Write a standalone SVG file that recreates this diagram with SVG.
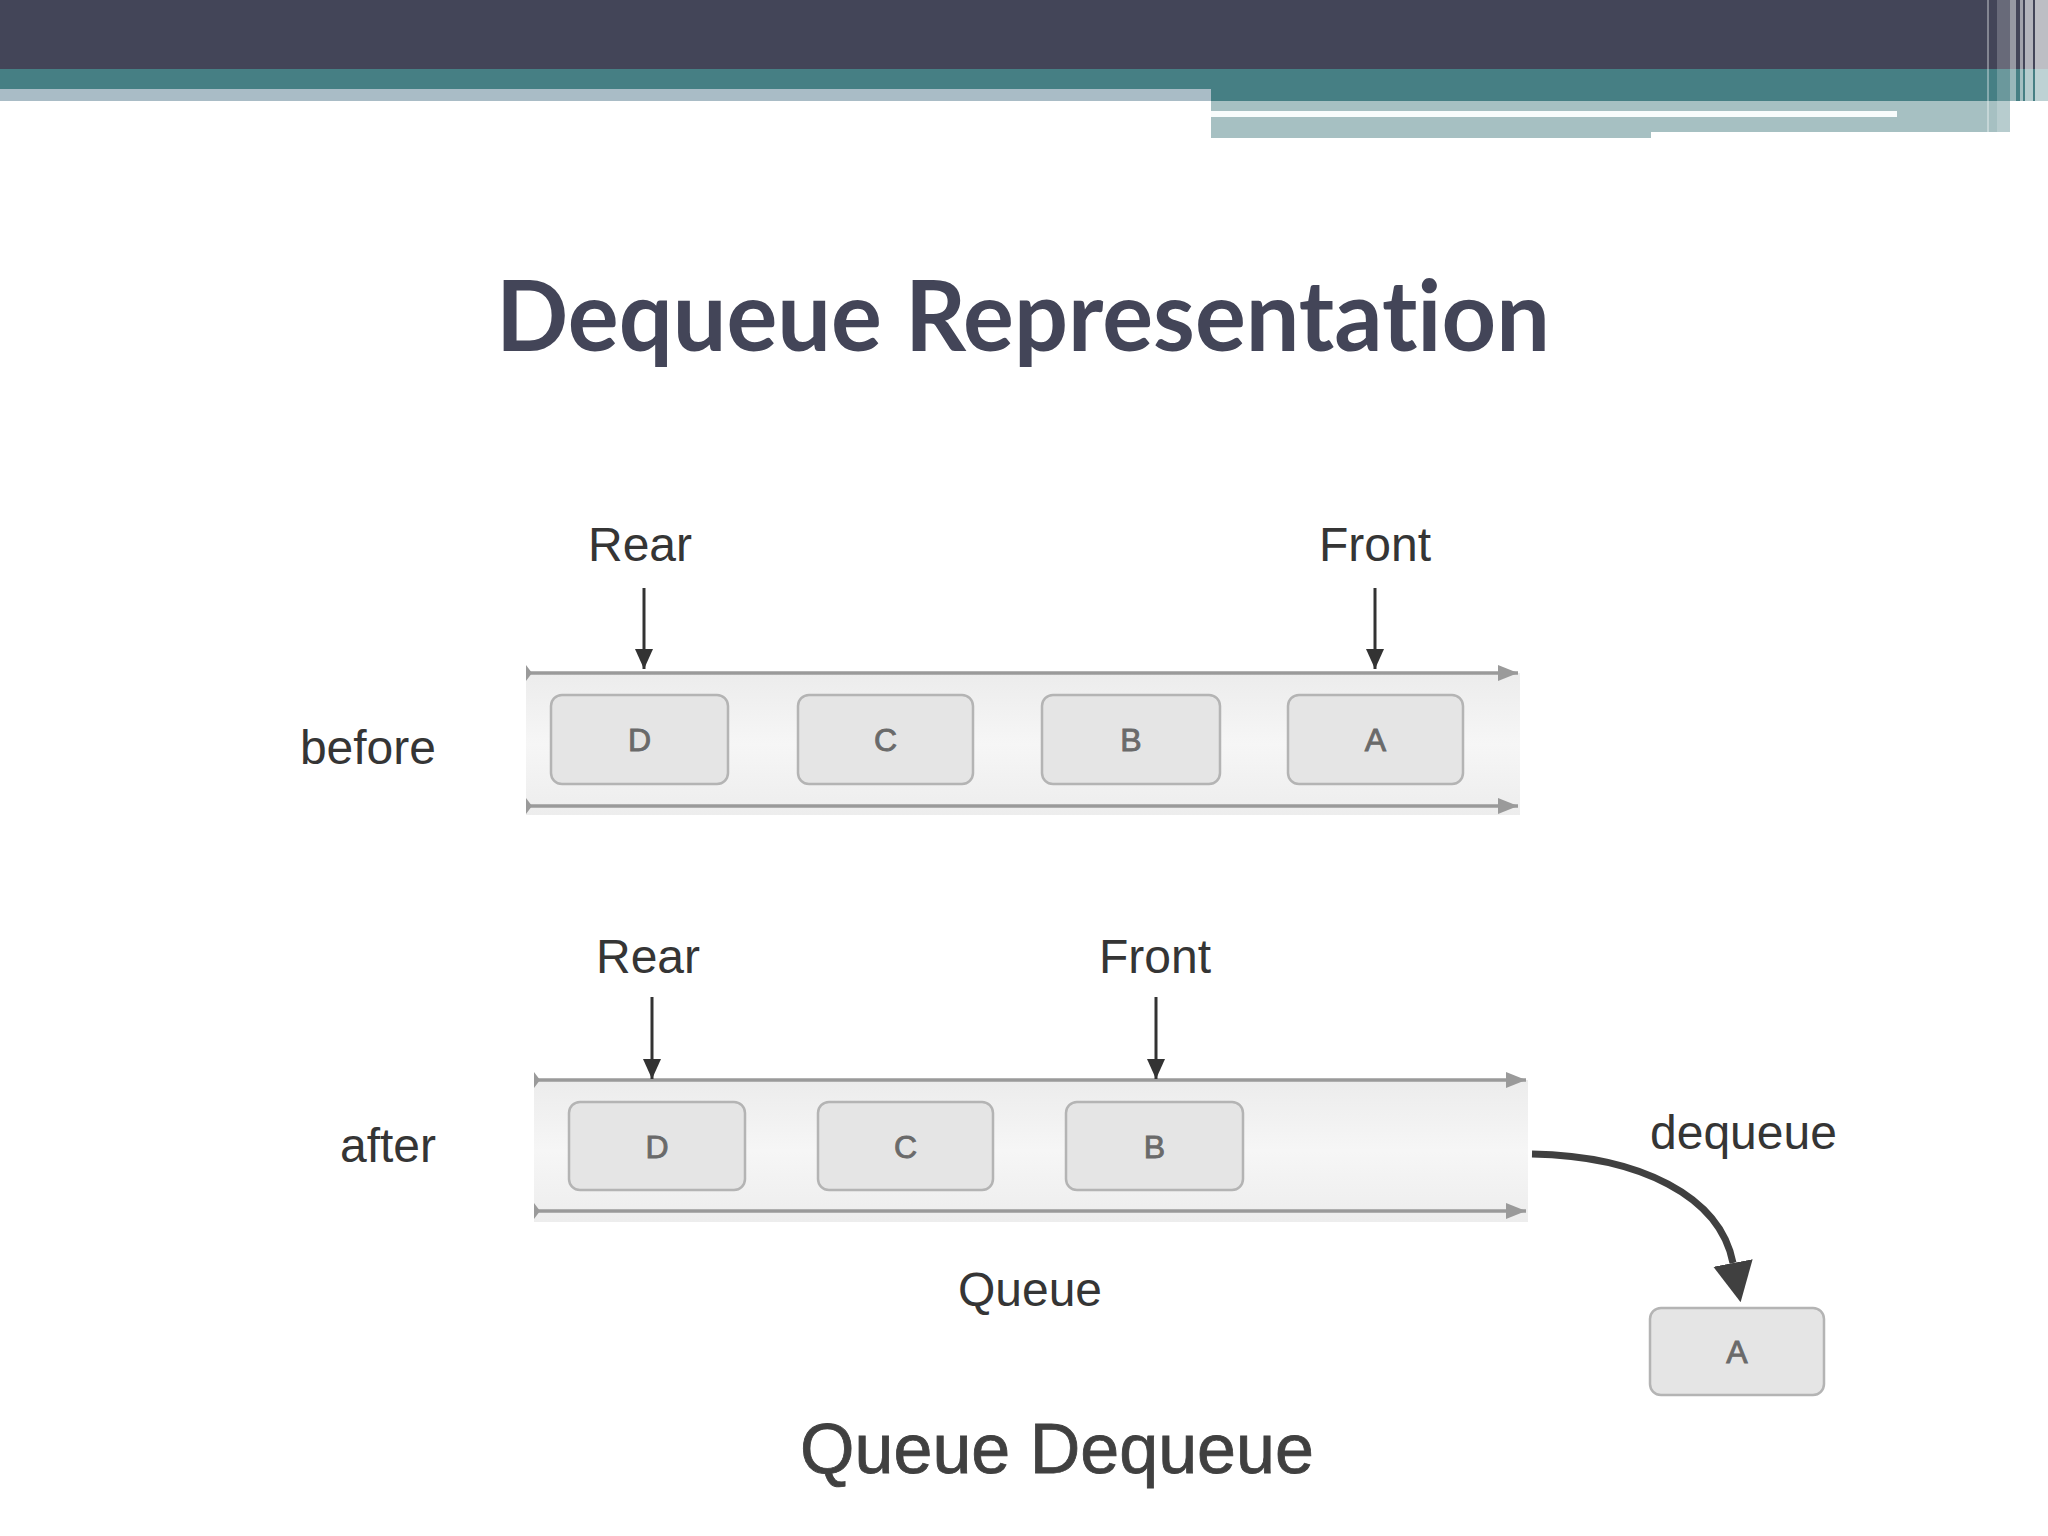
<svg xmlns="http://www.w3.org/2000/svg" width="2048" height="1536" viewBox="0 0 2048 1536">
  <style>
    .lbl { font-family: "Liberation Sans", Arial, sans-serif; font-size: 48px; fill: #353535; }
    .cell { fill: #e5e5e5; stroke: #b4b4b4; stroke-width: 2.5; }
    .cellt { font-family: "Liberation Sans", Arial, sans-serif; font-size: 32px; fill: #6a6a6a; stroke: #6a6a6a; stroke-width: 0.9; text-anchor: middle; }
    .qline { stroke: #9a9a9a; stroke-width: 3.5; fill: none; }
    .ptr { stroke: #333; stroke-width: 3; fill: none; }
  </style>
  <defs>
    <linearGradient id="band" x1="0" y1="0" x2="0" y2="1">
      <stop offset="0" stop-color="#ececec"/>
      <stop offset="0.5" stop-color="#f6f6f6"/>
      <stop offset="1" stop-color="#ededed"/>
    </linearGradient>
    <marker id="gArrow" markerUnits="userSpaceOnUse" viewBox="0 0 20 16" refX="20" refY="8" markerWidth="20" markerHeight="16" orient="auto">
      <path d="M0,0 L20,8 L0,16 z" fill="#9a9a9a"/>
    </marker>
    <marker id="gTail" markerUnits="userSpaceOnUse" viewBox="0 0 6 16" refX="0" refY="8" markerWidth="6" markerHeight="16" orient="auto">
      <path d="M0,0 L6,8 L0,16 z" fill="#9a9a9a"/>
    </marker>
    <marker id="dArrow" markerUnits="userSpaceOnUse" viewBox="0 0 18 20" refX="9" refY="20" markerWidth="18" markerHeight="20" orient="0">
      <path d="M0,0 L18,0 L9,20 z" fill="#333"/>
    </marker>
    <marker id="bigArrow" markerUnits="userSpaceOnUse" viewBox="0 0 40 40" refX="0" refY="20" markerWidth="40" markerHeight="40" orient="auto">
      <path d="M0,0 L40,20 L0,40 z" fill="#404040"/>
    </marker>
  </defs>

  <rect x="0" y="0" width="2048" height="1536" fill="#ffffff"/>

  <g id="header">
    <rect x="0" y="0" width="2048" height="69" fill="#434558"/>
    <rect x="0" y="69" width="2048" height="32" fill="#467f84"/>
    <rect x="0" y="89" width="1211" height="12" fill="#a9bcc6"/>
    <rect x="1211" y="101" width="440" height="37" fill="#a6c0c2"/>
    <rect x="1651" y="101" width="359" height="31" fill="#a6c0c2"/>
    <rect x="1211" y="111" width="686" height="6" fill="#f8fcfc"/>
    <rect x="1987" y="0" width="2" height="132" fill="#ffffff" fill-opacity="0.35"/>
    <rect x="1997" y="0" width="13" height="132" fill="#ffffff" fill-opacity="0.2"/>
    <rect x="2010" y="0" width="6" height="138" fill="#ffffff" fill-opacity="0.45"/>
    <rect x="2020" y="0" width="3" height="138" fill="#ffffff" fill-opacity="0.5"/>
    <rect x="2025" y="0" width="8" height="138" fill="#ffffff" fill-opacity="0.6"/>
    <rect x="2035" y="0" width="13" height="138" fill="#ffffff" fill-opacity="0.65"/>
  </g>

  <g id="title">
    <text x="1023" y="351" font-family="Lato, 'Open Sans', sans-serif" font-weight="bold" font-size="97" fill="#434558" text-anchor="middle" textLength="1054" lengthAdjust="spacingAndGlyphs" style="font-variant-ligatures: none">Dequeue Representation</text>
  </g>

  <g id="before-queue">
    <rect x="526" y="673" width="994" height="142" fill="url(#band)"/>
    <text class="lbl" x="436" y="764" text-anchor="end">before</text>
  </g>
  <g id="before-D"><rect class="cell" x="551" y="695" width="177" height="89" rx="11"/><text class="cellt" x="639.5" y="751">D</text></g>
  <g id="before-C"><rect class="cell" x="798" y="695" width="175" height="89" rx="11"/><text class="cellt" x="885.5" y="751">C</text></g>
  <g id="before-B"><rect class="cell" x="1042" y="695" width="178" height="89" rx="11"/><text class="cellt" x="1131" y="751">B</text></g>
  <g id="before-A"><rect class="cell" x="1288" y="695" width="175" height="89" rx="11"/><text class="cellt" x="1375.5" y="751">A</text></g>
  <g id="before-rear"><text class="lbl" x="640" y="561" text-anchor="middle">Rear</text></g>
  <g id="before-front"><text class="lbl" x="1375" y="561" text-anchor="middle">Front</text></g>

  <g id="after-queue">
    <rect x="534" y="1080" width="994" height="142" fill="url(#band)"/>
    <text class="lbl" x="436" y="1162" text-anchor="end">after</text>
  </g>
  <g id="after-D"><rect class="cell" x="569" y="1102" width="176" height="88" rx="11"/><text class="cellt" x="657" y="1158">D</text></g>
  <g id="after-C"><rect class="cell" x="818" y="1102" width="175" height="88" rx="11"/><text class="cellt" x="905.5" y="1158">C</text></g>
  <g id="after-B"><rect class="cell" x="1066" y="1102" width="177" height="88" rx="11"/><text class="cellt" x="1154.5" y="1158">B</text></g>
  <g id="after-rear"><text class="lbl" x="648" y="973" text-anchor="middle">Rear</text></g>
  <g id="after-front"><text class="lbl" x="1155" y="973" text-anchor="middle">Front</text></g>

  <g id="dequeued-A"><rect class="cell" x="1650" y="1308" width="174" height="87" rx="11"/><text class="cellt" x="1737" y="1363">A</text></g>
  <g id="dequeue-label"><text class="lbl" x="1650" y="1149">dequeue</text></g>
  <g id="queue-label"><text class="lbl" x="1030" y="1306" text-anchor="middle">Queue</text></g>
  <g id="caption"><text x="1057" y="1473" font-family="'Liberation Sans', Arial, sans-serif" font-size="70" fill="#404040" stroke="#404040" stroke-width="0.8" text-anchor="middle">Queue Dequeue</text></g>

  <g id="connectors">
    <line class="qline" x1="526" y1="673" x2="1518" y2="673" marker-start="url(#gTail)" marker-end="url(#gArrow)"/>
    <line class="qline" x1="526" y1="806" x2="1518" y2="806" marker-start="url(#gTail)" marker-end="url(#gArrow)"/>
    <line class="qline" x1="534" y1="1080" x2="1526" y2="1080" marker-start="url(#gTail)" marker-end="url(#gArrow)"/>
    <line class="qline" x1="534" y1="1211" x2="1526" y2="1211" marker-start="url(#gTail)" marker-end="url(#gArrow)"/>
    <line class="ptr" x1="644" y1="588" x2="644" y2="669" marker-end="url(#dArrow)"/>
    <line class="ptr" x1="1375" y1="588" x2="1375" y2="669" marker-end="url(#dArrow)"/>
    <line class="ptr" x1="652" y1="997" x2="652" y2="1079" marker-end="url(#dArrow)"/>
    <line class="ptr" x1="1156" y1="997" x2="1156" y2="1079" marker-end="url(#dArrow)"/>
    <path d="M1532,1154 C1640,1156 1720,1196 1733,1263" fill="none" stroke="#404040" stroke-width="7" marker-end="url(#bigArrow)"/>
  </g>
</svg>
